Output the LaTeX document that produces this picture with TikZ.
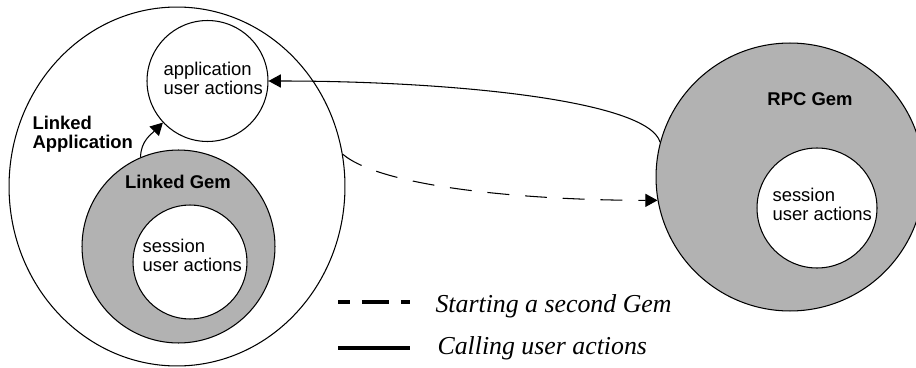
\documentclass[tikz,border=0pt]{standalone}
\usepackage{fontspec}
\setmainfont{Liberation Serif}
\setsansfont{Liberation Sans}
\usetikzlibrary{arrows.meta,shapes.geometric}
\definecolor{gemgray}{gray}{0.7}
\begin{document}
\begin{tikzpicture}[x=0.02cm,y=-0.02cm,line width=0.6pt,
                >={Triangle[length=7pt,width=7.5pt]},
                ring/.style={circle,draw,inner sep=0pt},
                txt/.style={font=\sffamily\fontsize{10.5}{10.8}\selectfont,align=left,inner sep=0pt},
                btxt/.style={font=\sffamily\bfseries\fontsize{10.5}{10.8}\selectfont,align=left,inner sep=0pt},
                legtxt/.style={font=\itshape\fontsize{14.7}{16}\selectfont,anchor=west,inner sep=0pt}]
                \useasboundingbox (0,0) rectangle (916,368);

                \node[ellipse,draw,inner sep=0pt,minimum width=6.72cm,minimum height=7.18cm] (lapp) at(177,186.5) {};
                \node[ring,fill=gemgray,minimum size=3.86cm] (lgem) at(178.5,246.5) {};
                \node[ring,fill=white,minimum size=2.28cm] (lsess) at(190,262) {};
                \node[ring,fill=white,minimum size=2.42cm] (app) at(207.5,81) {};

                \node[ring,fill=gemgray,minimum size=5.36cm] (rpc) at(790,177) {};
                \node[ring,fill=white,minimum size=2.4cm] (rsess) at(817,208) {};

                \node[btxt,anchor=west] (lapplbl) at(32,134) {Linked\\Application};
                \node[btxt] (lgemlbl) at(178,182) {Linked Gem};
                \node[btxt] (rpclbl) at(810,99) {RPC Gem};
                \node[txt,anchor=west] (applbl) at(163,78.5) {application\\user actions};
                \node[txt,anchor=west] (lsesslbl) at(142,255.5) {session\\user actions};
                \node[txt,anchor=west] (rsesslbl) at(772,204.5) {session\\user actions};

                \draw[->] (lgem.113) to[out=90,in=225] (app.223);
                \draw[->] (rpc.165) .. controls +(-12,-42) and +(182,0) .. (app.east);
                \draw[->,dash pattern=on 12.5pt off 9pt] (lapp.11) .. controls +(42,35) and +(-118,0) .. (rpc.190);

                \coordinate (dashA) at(338,302);
                \coordinate (dashB) at(410,302);
                \coordinate (solidA) at(338,348);
                \coordinate (solidB) at(410,348);
                \draw[line width=1.8pt,dash pattern=on 0.54cm off 0.24cm,dash phase=0.3cm] (dashA) -- (dashB);
                \draw[line width=1.8pt] (solidA) -- (solidB);
                \node[legtxt] (startlbl) at(435,306) {Starting a second Gem};
                \node[legtxt] (calllbl) at(437,348) {Calling user actions};
\end{tikzpicture}
\end{document}
